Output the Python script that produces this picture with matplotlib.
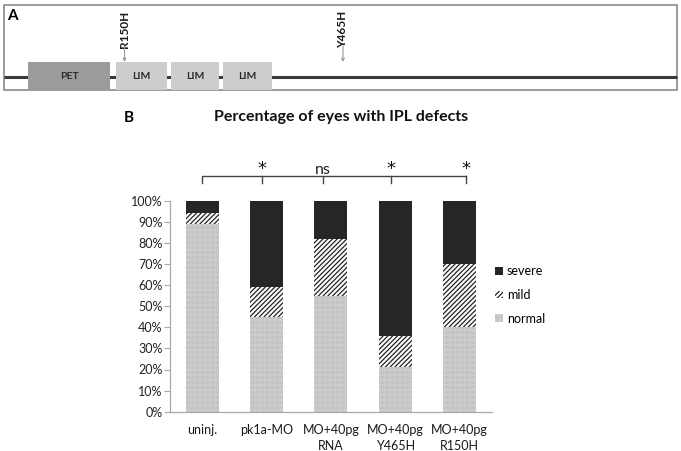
import matplotlib.pyplot as plt
from matplotlib.patches import Rectangle, Patch

plt.rcParams['font.family'] = ['Lato', 'DejaVu Sans']
plt.rcParams['hatch.linewidth'] = 0.9

# data for panel B
groups = ['uninj.', 'pk1a-MO', 'MO+40pg\nRNA', 'MO+40pg\nY465H', 'MO+40pg\nR150H']
normal = [89, 45, 55, 21, 40]
mild = [5, 14, 27, 15, 30]
severe = [6, 41, 18, 64, 30]
signif = ['*', 'ns', '*', '*']
yticks = [0, 10, 20, 30, 40, 50, 60, 70, 80, 90, 100]

# domain diagram for panel A (pixel positions in panel)
domains = [('PET', 28, 110, '#9b9b9b'), ('LIM', 116, 167, '#cdcdcd'),
           ('LIM', 171, 219, '#cdcdcd'), ('LIM', 223, 272, '#cdcdcd')]
mutations = [('R150H', 124.5), ('Y465H', 343)]

W, H = 681, 451
fig = plt.figure(figsize=(W / 100, H / 100), dpi=100)

# overlay axes in pixel coordinates for panel A and labels
ov = fig.add_axes([0, 0, 1, 1])
ov.set_xlim(0, W)
ov.set_ylim(H, 0)
ov.axis('off')

ov.add_patch(Rectangle((4, 4.5), 672.5, 85.5, fill=False, edgecolor='#8a8a8a', lw=1.2))
ov.plot([4, 676.5], [76.5, 76.5], color='#3a3a3a', lw=2.2, solid_capstyle='butt')
for name, x0, x1, c in domains:
    ov.add_patch(Rectangle((x0, 62), x1 - x0, 28, facecolor=c, edgecolor='none', zorder=3))
    ov.text((x0 + x1) / 2, 76.5, name, ha='center', va='center', fontsize=7.5,
            fontweight='bold', color='#2a2a2a', zorder=4)
for name, x in mutations:
    ov.text(x, 29, name, rotation=90, ha='center', va='center', fontsize=8.5,
            fontweight='bold', color='#1a1a1a')
    ov.annotate('', xy=(x, 62), xytext=(x, 46),
                arrowprops=dict(arrowstyle='->', color='#999999', lw=0.8,
                                shrinkA=0, shrinkB=0, mutation_scale=5))
ov.text(12, 16, 'A', ha='center', va='center', fontsize=11, fontweight='bold')
ov.text(129, 118, 'B', ha='center', va='center', fontsize=11, fontweight='bold')
ov.text(341, 117, 'Percentage of eyes with IPL defects', ha='center', va='center',
        fontsize=11.5, fontweight='bold', color='#111111')

# bar chart
ax = fig.add_axes([170 / W, (H - 411.7) / H, 321.7 / W, 211 / H])
x = list(range(len(groups)))
bot2 = [a + b for a, b in zip(normal, mild)]
ax.bar(x, normal, width=0.51, color='white', edgecolor='#959595', hatch='..........', lw=0)
ax.bar(x, mild, bottom=normal, width=0.51, color='white', edgecolor='#222222', hatch='///////', lw=0)
ax.bar(x, severe, bottom=bot2, width=0.51, color='#262626', lw=0)

ax.set_xlim(-0.5, 4.5)
ax.set_ylim(0, 100)
ax.set_yticks(yticks)
ax.set_yticklabels([f'{t}%' for t in yticks], fontsize=9, color='#222222')
ax.set_xticks(x)
ax.set_xticklabels(groups, fontsize=9, color='#1a1a1a', linespacing=1.4)
ax.tick_params(axis='x', length=0, pad=9)
ax.tick_params(axis='y', length=4, width=0.8, color='#aaaaaa', pad=1.5)
for s in ['top', 'right']:
    ax.spines[s].set_visible(False)
for s in ['left', 'bottom']:
    ax.spines[s].set_color('#aaaaaa')
    ax.spines[s].set_linewidth(0.9)

# significance bracket
tick_pos = [0.936, 1.874, 2.93, 4.10]
ax.plot([0, 0, 4.10], [108.4, 111.8, 111.8], color='#444444', lw=1, clip_on=False)
for tp, lab in zip(tick_pos, signif):
    ax.plot([tp, tp], [111.8, 108.4], color='#444444', lw=1, clip_on=False)
    if lab == '*':
        ax.text(tp, 115.2, lab, ha='center', va='center', fontsize=13, clip_on=False,
                family='DejaVu Sans', color='#111111')
    else:
        ax.text(tp, 111.4, lab, ha='center', va='bottom', fontsize=11.5, clip_on=False,
                color='#222222')

handles = [Patch(facecolor='#262626', edgecolor='#262626', lw=0, label='severe'),
           Patch(facecolor='white', edgecolor='#222222', hatch='///////', lw=0, label='mild'),
           Patch(facecolor='white', edgecolor='#959595', hatch='..........', lw=0, label='normal')]
fig.legend(handles=handles, loc='upper left', bbox_to_anchor=(495 / W, (H - 265) / H),
           frameon=False, fontsize=9, handlelength=0.6, handleheight=0.6,
           handletextpad=0.35, labelspacing=0.95, borderpad=0, borderaxespad=0)

fig.savefig('out.png', dpi=100)
